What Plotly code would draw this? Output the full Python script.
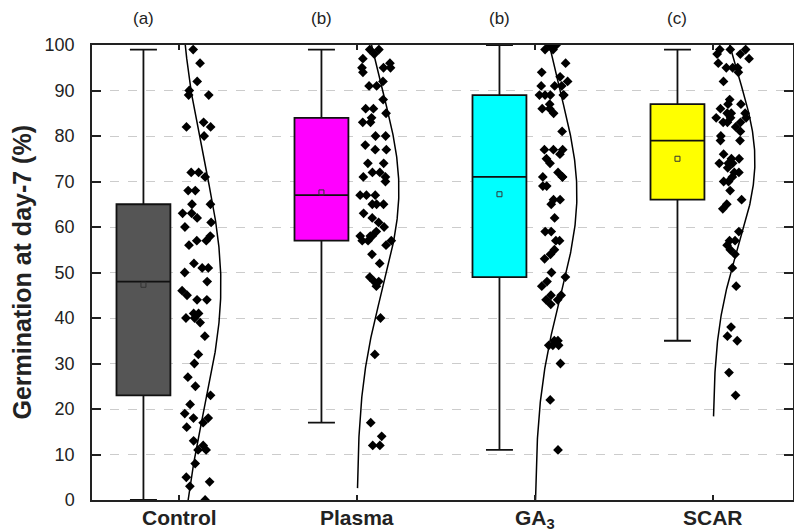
import numpy as np
import plotly.graph_objects as go

# ---------------- data ----------------
categories = ["Control", "Plasma", "GA<sub>3</sub>", "SCAR"]
letters = ["(a)", "(b)", "(b)", "(c)"]
box_colors = ["#555555", "#ff00ff", "#00ffff", "#ffff00"]

q1 = [23, 57, 49, 66]
median = [48, 67, 71, 79]
q3 = [65, 84, 89, 87]
lower_whisker = [0, 17, 11, 35]
upper_whisker = [99, 99, 100, 99]
means = [47.3, 67.6, 67.2, 75.0]

control = [99, 96, 92, 90, 89, 89, 83, 82, 82, 80, 72, 72, 71, 68, 68, 65, 65,
           63, 63, 62, 61, 60, 58, 57, 57, 56, 52, 51, 51, 50, 48, 46, 45, 44,
           44, 41, 41, 40, 40, 39, 36, 32, 30, 27, 25, 23, 21, 19, 18, 18, 17,
           16, 13, 12, 11, 11, 8, 5, 4, 3, 0]
plasma = [99, 99, 98, 97, 96, 95, 95, 95, 94, 92, 91, 91, 88, 86, 86, 85, 84,
          83, 83, 80, 80, 78, 77, 77, 74, 74, 72, 72, 71, 71, 70, 67, 67, 67,
          65, 65, 65, 63, 62, 61, 60, 59, 58, 58, 58, 57, 57, 57, 56, 54, 52,
          49, 48, 48, 47, 40, 32, 17, 14, 12, 12]
ga3 = [100, 100, 99, 99, 96, 94, 93, 92, 91, 91, 91, 89, 89, 89, 89, 89, 87,
       86, 86, 85, 81, 77, 77, 77, 76, 75, 74, 72, 71, 71, 71, 69, 69, 66, 66,
       65, 62, 59, 59, 57, 57, 55, 54, 53, 50, 49, 48, 47, 45, 45, 44, 44, 43,
       35, 35, 34, 34, 34, 30, 22, 11]
scar = [99, 99, 99, 98, 98, 97, 96, 95, 95, 95, 94, 92, 88, 87, 87, 86, 85,
        85, 85, 84, 84, 84, 83, 83, 83, 82, 81, 80, 79, 79, 76, 75, 75, 74, 74,
        74, 73, 72, 72, 71, 70, 70, 68, 66, 65, 64, 59, 57, 57, 56, 55, 54, 51,
        47, 38, 36, 35, 28, 23]
groups = [control, plasma, ga3, scar]

y_ticks = list(range(0, 101, 10))

# ---------------- figure ----------------
FONT = "Liberation Sans, Arial, sans-serif"
positions = [1, 2, 3, 4]
box_offset = -0.2
box_width = 0.303
pts_offset = 0.11
pts_width = 0.22
curve_amp = 0.235

fig = go.Figure()

for i, p in enumerate(positions):
    fig.add_trace(go.Box(
        x=[p + box_offset], q1=[q1[i]], median=[median[i]], q3=[q3[i]],
        lowerfence=[lower_whisker[i]], upperfence=[upper_whisker[i]],
        width=box_width, whiskerwidth=0.5,
        fillcolor=box_colors[i], line=dict(color="#111111", width=1.8),
        boxpoints=False, hoverinfo="skip", showlegend=False,
    ))

# means
fig.add_trace(go.Scatter(
    x=[p + box_offset for p in positions], y=means, mode="markers",
    marker=dict(symbol="square-open", size=5, color="#333333",
                line=dict(width=1)),
    hoverinfo="skip", showlegend=False,
))

# jittered points (library jitter, invisible box)
for i, p in enumerate(positions):
    fig.add_trace(go.Box(
        x=[p + pts_offset] * len(groups[i]), y=groups[i],
        width=pts_width, boxpoints="all", jitter=1, pointpos=0,
        fillcolor="rgba(0,0,0,0)", line=dict(color="rgba(0,0,0,0)", width=0),
        marker=dict(symbol="diamond", size=7.5, color="black"),
        hoverinfo="skip", showlegend=False,
    ))

# normal distribution curves computed from the data
for i, p in enumerate(positions):
    d = np.array(groups[i], dtype=float)
    m, s = d.mean(), d.std(ddof=1)
    yy = np.linspace(max(0, m - 3 * s), min(100, m + 3 * s), 300)
    xx = p + curve_amp * np.exp(-0.5 * ((yy - m) / s) ** 2)
    fig.add_trace(go.Scatter(
        x=xx, y=yy, mode="lines", line=dict(color="black", width=1.5),
        hoverinfo="skip", showlegend=False,
    ))

annotations = []
for i, p in enumerate(positions):
    annotations.append(dict(
        x=p + box_offset, y=1, xref="x", yref="paper", text=letters[i],
        showarrow=False, yanchor="middle", yshift=27,
        font=dict(family=FONT, size=17, color="#222222"),
    ))
    annotations.append(dict(
        x=p, y=0, xref="x", yref="paper", text="<b>%s</b>" % categories[i],
        showarrow=False, yanchor="top", yshift=-4,
        font=dict(family=FONT, size=21, color="#222222"),
    ))
annotations.append(dict(
    x=0, y=0.5, xref="paper", yref="paper",
    text="<b>Germination at day-7 (%)</b>", textangle=-90,
    showarrow=False, xanchor="center", yanchor="middle", xshift=-71,
    font=dict(family=FONT, size=25, color="#222222"),
))

fig.update_layout(
    width=794, height=532,
    margin=dict(l=92, r=1, t=45, b=32, autoexpand=False),
    paper_bgcolor="white", plot_bgcolor="white",
    boxmode="overlay",
    annotations=annotations,
    font=dict(family=FONT, color="#222222"),
)
fig.update_xaxes(
    range=[0.511, 4.449], tickvals=positions, showticklabels=False,
    ticks="inside", ticklen=5, tickwidth=1.5, tickcolor="#222222",
    showline=True, linecolor="#222222", linewidth=1.5, mirror="allticks",
    showgrid=False, zeroline=False, automargin=False,
)
fig.update_yaxes(
    range=[0, 100], tickvals=y_ticks,
    tickfont=dict(family=FONT, size=18, color="#222222"),
    ticks="inside", ticklen=9, tickwidth=1.5, tickcolor="#222222",
    showline=True, linecolor="#222222", linewidth=1.5, mirror="allticks",
    showgrid=True, gridcolor="#cccccc", griddash="dash", gridwidth=1,
    zeroline=False, ticklabelstandoff=12, automargin=False,
)

fig.write_html("out.html")
